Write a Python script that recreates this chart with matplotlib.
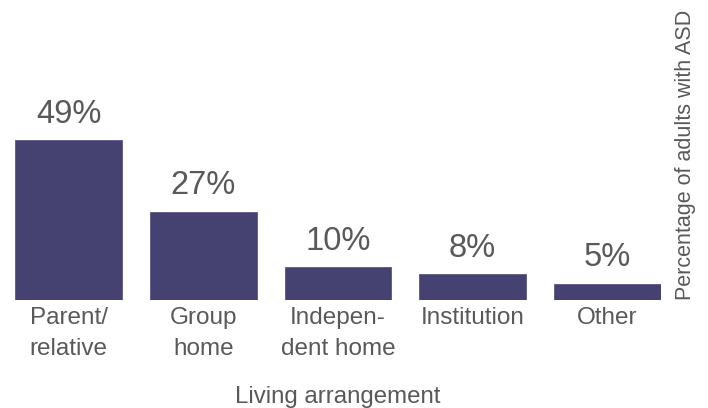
import matplotlib
matplotlib.use("Agg")
import matplotlib.pyplot as plt

categories = ["Parent/\nrelative", "Group\nhome", "Indepen-\ndent home", "Institution", "Other"]
values = [49, 27, 10, 8, 5]
value_labels = ["49%", "27%", "10%", "8%", "5%"]

plt.rcParams['font.family'] = ['Liberation Sans', 'DejaVu Sans']
text_color = "#595959"
bar_color = "#454272"

W, H = 708, 408
fig = plt.figure(figsize=(W / 100, H / 100), dpi=100)
ax = fig.add_axes([15 / W, 108 / H, (661 - 15) / W, 160 / H])

x = list(range(len(categories)))
bars = ax.bar(x, values, width=0.795, color=bar_color, edgecolor="#5a5788", linewidth=0.6)
ax.set_xlim(-0.4, len(categories) - 0.6)
ax.set_ylim(0, max(values))

for xi, v, lab in zip(x, values, value_labels):
    ax.annotate(lab, (xi, v), xytext=(0, 12.5), textcoords="offset points",
                ha="center", va="baseline", fontsize=23.5, color=text_color,
                annotation_clip=False)

ax.set_xticks(x)
ax.set_xticklabels(categories, fontsize=17.5, color=text_color, linespacing=1.55)
ax.tick_params(axis="x", length=0, pad=5)
ax.set_yticks([])
for s in ax.spines.values():
    s.set_visible(False)

fig.text(338 / W, 1 - 397 / H, "Living arrangement", ha="center", va="center",
         fontsize=17.3, color=text_color)
fig.text(686 / W, 1 - 155 / H, "Percentage of adults with ASD", ha="center", va="center",
         rotation=90, fontsize=15.5, color=text_color)

fig.savefig("out.png", dpi=100, facecolor="white")
